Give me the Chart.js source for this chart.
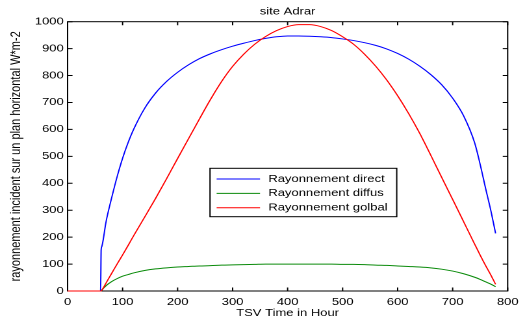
<!DOCTYPE html>
<html>
<head>
<meta charset="utf-8">
<script src="https://cdn.jsdelivr.net/npm/chart.js@4"></script>
<style>
  html, body { margin: 0; padding: 0; background: #fff; overflow: hidden; }
  /* the figure is laid out narrow and widened horizontally */
  #frame { width: 404px; height: 327px; transform: scaleX(1.2995); transform-origin: 0 0; }
  canvas { display: block; }
</style>
</head>
<body>
<div id="frame"><canvas id="chart" width="404" height="327"></canvas></div>
<script>
// Time axis (TSV) and the three radiation components, W*m-2
const hours = [0, 60, 61, 62, 70, 80, 90, 100, 110, 120,
  140, 160, 180, 200, 220, 240, 260, 280, 300, 320, 340, 360, 380, 400, 420, 440,
  460, 480, 500, 520, 540, 560, 580, 600, 620, 640, 660, 680, 700, 720, 740,
  750, 760, 770, 778];

const direct = [0, 0, 152, 164, 258, 345, 424, 493, 551, 600,
  678, 735, 778, 812, 840, 863, 881, 896, 909, 920, 930, 938, 944, 947, 947, 946,
  944, 941, 936, 930, 922, 912, 899, 882, 861, 835, 804, 766, 716, 650, 550,
  470, 380, 293, 214];

const diffus = [0, 0, 0, 3, 20, 35, 46, 55, 61, 67,
  76, 82, 86, 89, 91, 93, 94, 96, 97, 98, 99, 100, 100, 100, 100, 100,
  100, 100, 99, 99, 98, 96, 95, 93, 91, 89, 86, 81, 74, 64, 51,
  43, 34, 25, 16];

const global = [0, 0, 0, 2, 30, 65, 100, 134, 169, 205,
  274, 344, 417, 492, 566, 640, 712, 778, 834, 879, 916, 945, 967, 982, 989, 989,
  982, 967, 944, 916, 879, 835, 784, 725, 659, 586, 505, 422, 340, 257, 174,
  133, 94, 57, 25];

const seriesLabels = ['Rayonnement direct', 'Rayonnement diffus', 'Rayonnement golbal'];
const xTicks = [0, 100, 200, 300, 400, 500, 600, 700, 800];
const yTicks = [0, 100, 200, 300, 400, 500, 600, 700, 800, 900, 1000];

const FONT = '"Liberation Sans", Arial, Helvetica, sans-serif';
const toPoints = values => hours.map((h, i) => ({ x: h, y: values[i] }));

// Closed axes box with inward tick marks on all four sides
const boxAxes = {
  id: 'boxAxes',
  beforeDatasetsDraw(chart) {
    const { ctx, chartArea: a, scales: { x, y } } = chart;
    ctx.save();
    ctx.strokeStyle = '#000';
    ctx.lineWidth = 1;
    ctx.strokeRect(a.left, a.top, a.right - a.left, a.bottom - a.top);
    ctx.beginPath();
    xTicks.forEach(v => {
      const px = x.getPixelForValue(v);
      ctx.moveTo(px, a.bottom); ctx.lineTo(px, a.bottom - 3.5);
      ctx.moveTo(px, a.top); ctx.lineTo(px, a.top + 3.5);
    });
    yTicks.forEach(v => {
      const py = y.getPixelForValue(v);
      ctx.moveTo(a.left, py); ctx.lineTo(a.left + 3.8, py);
      ctx.moveTo(a.right, py); ctx.lineTo(a.right - 3.8, py);
    });
    ctx.stroke();
    ctx.restore();
  }
};

// Framed legend sitting inside the plot area
const boxLegend = {
  id: 'boxLegend',
  afterDatasetsDraw(chart) {
    const { ctx, chartArea: a } = chart;
    const bx = a.left + 109.6, by = a.top + 146.6, bw = 143.7, bh = 48.4;
    ctx.save();
    ctx.fillStyle = '#fff';
    ctx.fillRect(bx, by, bw, bh);
    ctx.strokeStyle = '#000';
    ctx.lineWidth = 1;
    ctx.strokeRect(bx, by, bw, bh);
    ctx.font = '10px ' + FONT;
    ctx.textBaseline = 'middle';
    chart.data.datasets.forEach((ds, row) => {
      const ry = by + 10.7 + row * 14.35;
      ctx.strokeStyle = ds.borderColor;
      ctx.beginPath();
      ctx.moveTo(bx + 5.1, ry);
      ctx.lineTo(bx + 38.5, ry);
      ctx.stroke();
      ctx.fillStyle = '#000';
      ctx.fillText(ds.label, bx + 44.9, ry);
    });
    ctx.restore();
  }
};

const lineStyle = {
  borderWidth: 1,
  pointRadius: 0,
  fill: false,
  cubicInterpolationMode: 'monotone',
  clip: 4
};

new Chart(document.getElementById('chart'), {
  type: 'line',
  data: {
    datasets: [
      { ...lineStyle, label: seriesLabels[0], data: toPoints(direct), borderColor: '#0000ff', order: 2 },
      { ...lineStyle, label: seriesLabels[1], data: toPoints(diffus), borderColor: '#0a8a0a', order: 1 },
      { ...lineStyle, label: seriesLabels[2], data: toPoints(global), borderColor: '#ff0000', order: 0 }
    ]
  },
  options: {
    responsive: false,
    animation: false,
    devicePixelRatio: 2,
    layout: { padding: { left: 0, right: 7.7, top: 0, bottom: 0 } },
    plugins: {
      legend: { display: false },
      tooltip: { enabled: false }
    },
    scales: {
      x: {
        type: 'linear',
        position: 'bottom',
        min: 0, max: 800,
        afterFit: s => { s.height = 36; },
        afterBuildTicks: s => { s.ticks = xTicks.map(v => ({ value: v })); },
        ticks: { font: { family: FONT, size: 10 }, color: '#000', padding: 5, maxRotation: 0,
                 autoSkip: false, callback: v => String(v) },
        grid: { display: false, drawTicks: false },
        border: { display: false },
        title: { display: true, text: 'TSV Time in Hour', color: '#000',
                 font: { family: FONT, size: 10 }, padding: { top: 0, bottom: 8 } }
      },
      top: {
        type: 'linear',
        position: 'top',
        min: 0, max: 800,
        afterFit: s => { s.height = 21.7; },
        ticks: { display: false },
        grid: { display: false, drawTicks: false },
        border: { display: false },
        title: { display: true, text: 'site Adrar', color: '#000',
                 font: { family: FONT, size: 10 }, padding: { top: 5.7, bottom: 0 } }
      },
      y: {
        type: 'linear',
        position: 'left',
        min: 0, max: 1000,
        afterFit: s => { s.width = 52; },
        afterBuildTicks: s => { s.ticks = yTicks.map(v => ({ value: v })); },
        ticks: { font: { family: FONT, size: 10 }, color: '#000', padding: 3, autoSkip: false,
                 callback: v => String(v) },
        grid: { display: false, drawTicks: false },
        border: { display: false },
        title: { display: true, text: 'rayonnement incident sur un plan horizontal W*m-2', color: '#000',
                 font: { family: FONT, size: 11 }, padding: { top: 5.9, bottom: 0 } }
      }
    }
  },
  plugins: [boxAxes, boxLegend]
});
</script>
</body>
</html>
